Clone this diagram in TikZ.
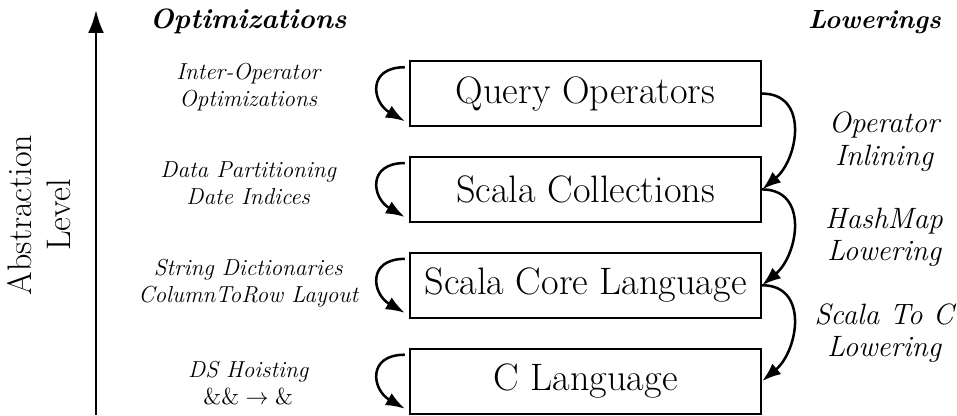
\documentclass[tikz,border=0pt]{standalone}
\usepackage{tikz}
\usetikzlibrary{arrows.meta,positioning,calc}
\usepackage{amsmath}

\tikzset{
  level/.style={draw,line width=1pt,minimum width=5.87cm,minimum height=1.087cm,inner sep=0pt,font=\fontsize{18.2}{21}\selectfont},
  optnote/.style={align=center,font=\fontsize{11}{12.8}\selectfont\itshape},
  lownote/.style={align=center,font=\fontsize{14}{15.5}\selectfont\itshape},
  header/.style={font=\fontsize{13.3}{16}\selectfont\bfseries\itshape},
  selfopt/.style={line width=1.2pt,-{Latex[length=9pt,width=6.5pt]}},
  lowering/.style={line width=1.2pt,-{Latex[length=9pt,width=6.5pt]}},
}

\begin{document}
\begin{tikzpicture}[node distance=0.48cm]
  \useasboundingbox (0,0) rectangle (16,6.955);
  % abstraction axis
  \coordinate (axbot) at (1.605,0.02);
  \coordinate (axtop) at (1.605,6.79);
  \draw[line width=1.4pt,-{Latex[length=11pt,width=7.6pt]}] (axbot) -- (axtop);
  \node[rotate=90,align=center,font=\fontsize{16.2}{18.5}\selectfont] (abs) at (0.66,3.36) {Abstraction\\Level};

  \node[header] (opt) at (4.15,6.59) {Optimizations};
  \node[header,font=\fontsize{12.5}{15}\selectfont\bfseries\itshape] (low) at (14.62,6.59) {Lowerings};

  % levels
  \node[level] (qo) at (9.79,5.39) {Query Operators};
  \node[level,below=of qo] (sc) {Scala Collections};
  \node[level,below=of sc] (core) {Scala Core Language};
  \node[level,below=of core] (cl) {C Language};

  % optimizations on each level
  \coordinate (optcol) at (4.15,0);
  \node[optnote] (o1) at ([yshift=3pt]optcol |- qo) {Inter-Operator\\Optimizations};
  \node[optnote] (o2) at ([yshift=3pt]optcol |- sc) {Data Partitioning\\Date Indices};
  \node[optnote] (o3) at ([yshift=1pt]optcol |- core) {String Dictionaries\\ColumnToRow Layout};
  \node[optnote] (o4) at ([yshift=-1pt]optcol |- cl) {DS Hoisting\\$\&\&\rightarrow\&$};

  \foreach \lv in {qo,sc,core,cl}
    \draw[selfopt] ([xshift=-2pt,yshift=-0.12cm]\lv.north west) to[out=180,in=150,looseness=1.8] ([xshift=-2pt,yshift=0.1cm]\lv.south west);

  % lowerings between levels
  \coordinate (lowcol) at (14.78,0);
  \path (qo) -- (sc) coordinate[midway] (m1);
  \path (sc) -- (core) coordinate[midway] (m2);
  \path (core) -- (cl) coordinate[midway] (m3);
  \node[lownote] (l1) at (lowcol |- m1) {Operator\\Inlining};
  \node[lownote] (l2) at (lowcol |- m2) {HashMap\\Lowering};
  \node[lownote] (l3) at (lowcol |- m3) {Scala To C\\Lowering};

  \draw[lowering] (qo.east) to[out=0,in=40,looseness=1.26] (sc.east);
  \draw[lowering] (sc.east) to[out=0,in=40,looseness=1.26] (core.east);
  \draw[lowering] (core.east) to[out=0,in=40,looseness=1.26] (cl.east);
\end{tikzpicture}
\end{document}
